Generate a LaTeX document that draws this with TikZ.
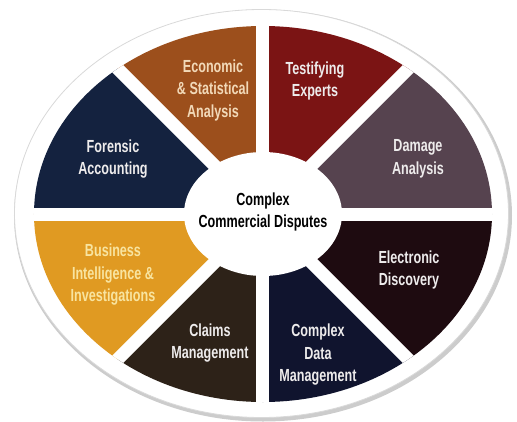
\documentclass[tikz,border=0pt]{standalone}
\usepackage{fontspec}
\newfontfamily\wheelfont{Liberation Sans}[FakeStretch=0.72]
\usepackage{tikz}
\definecolor{econ}{RGB}{156, 79, 28}
\definecolor{testify}{RGB}{123, 20, 20}
\definecolor{damage}{RGB}{86, 67, 79}
\definecolor{ediscovery}{RGB}{30, 11, 16}
\definecolor{cdata}{RGB}{16, 20, 46}
\definecolor{claims}{RGB}{45, 34, 24}
\definecolor{business}{RGB}{224, 154, 34}
\definecolor{forensic}{RGB}{20, 34, 63}
\definecolor{slicewhite}{RGB}{238, 236, 236}
\definecolor{econtext}{RGB}{242, 217, 184}
\definecolor{bizstext}{RGB}{248, 228, 160}
\tikzstyle{wheel} = [
  font=\wheelfont\bfseries\fontsize{17.5pt}{22.5pt}\selectfont,
]
\tikzstyle{slicetext} = [align=center, text=slicewhite, inner sep=0pt]
\tikzstyle{hubtext} = [align=center, text=black, inner sep=0pt]
\tikzstyle{gap} = [white, line width=13pt]

\begin{document}
\begin{tikzpicture}[wheel]
            \def\outerx{229pt}
            \def\outery{188pt}

            \coordinate (O);
            \useasboundingbox (-263pt,-207pt) rectangle (254pt,214pt);

            % Rim
            \fill[gray!40] (0pt,-1.5pt) ellipse [x radius=249pt, y radius=206pt];
            \fill[white] (-1.5pt,0.5pt) ellipse [x radius=247pt, y radius=204pt];
            \draw[gray!30, line width=0.8pt] (-1.5pt,0.5pt) ellipse [x radius=247pt, y radius=204pt];

            % Slices
            \begin{scope}
              \clip (O) ellipse [x radius=\outerx, y radius=\outery];
              \foreach \col [count=\i] in {damage,testify,econ,forensic,business,claims,cdata,ediscovery}
                \fill[\col] (O) -- ({(\i-1)*45}:300pt) -- ({\i*45}:300pt) -- cycle;
              % White gaps between the slices
              \foreach \a in {0,45,90,135}
                \draw[gap] (\a:300pt) -- ({\a+180}:300pt);
            \end{scope}

            % Hub
            \fill[white] (O) ellipse [x radius=79pt, y radius=62pt];

            % Labels
            \node[hubtext] (hub) at (0pt,2pt) {Complex\\Commercial Disputes};
            \node[slicetext, text=econtext] (econlabel) at (-50pt,124pt) {Economic\\\& Statistical\\Analysis};
            \node[slicetext] (testifylabel) at (52pt,133pt) {Testifying\\Experts};
            \node[slicetext] (forensiclabel) at (-150pt,55pt) {Forensic\\Accounting};
            \node[slicetext] (damagelabel) at (155pt,55pt) {Damage\\Analysis};
            \node[slicetext, text=bizstext] (businesslabel) at (-150pt,-61pt) {Business\\Intelligence \&\\Investigations};
            \node[slicetext] (ediscoverylabel) at (146pt,-56pt) {Electronic\\Discovery};
            \node[slicetext] (claimslabel) at (-53pt,-129pt) {Claims\\Management};
            \node[slicetext] (cdatalabel) at (55pt,-141pt) {Complex\\Data\\Management};
          \end{tikzpicture}
\end{document}
